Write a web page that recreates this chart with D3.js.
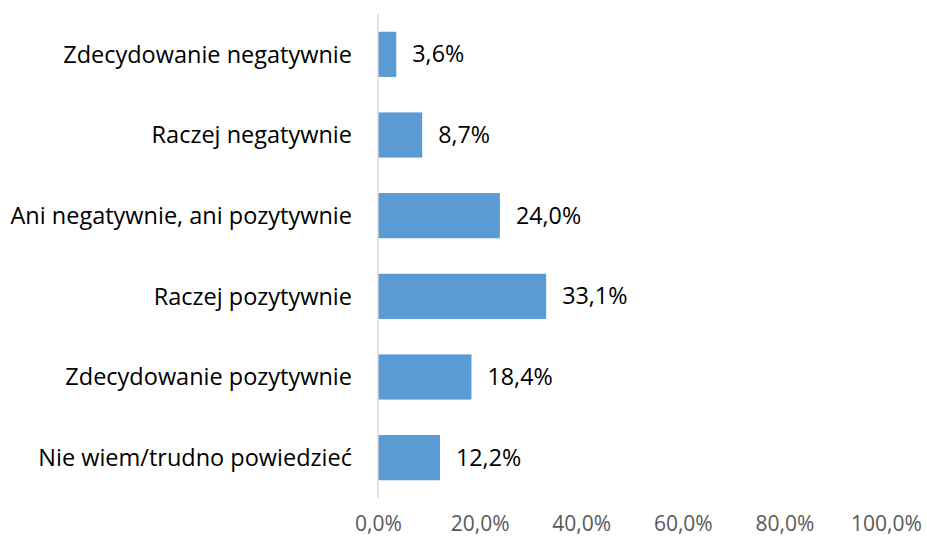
<!DOCTYPE html>
<html>
<head>
<meta charset="utf-8">
<script src="https://cdn.jsdelivr.net/npm/d3@7"></script>
<style>
  body { margin: 0; background: #fff; }
  text { font-family: "Open Sans", sans-serif; }
</style>
</head>
<body>
<script>
// answers to the survey question, top to bottom
let categories = [
  "Zdecydowanie negatywnie",
  "Raczej negatywnie",
  "Ani negatywnie, ani pozytywnie",
  "Raczej pozytywnie",
  "Zdecydowanie pozytywnie",
  "Nie wiem/trudno powiedzieć"
];
let values = [3.6, 8.7, 24.0, 33.1, 18.4, 12.2];
let tickValues = [0, 20, 40, 60, 80, 100];

let fmt = function(v){
  return v.toFixed(1).replace(".", ",") + "%";
};

let data = categories.map(function(c, i){
  return { name: c, value: values[i] };
});

let viz = d3.select("body")
  .append("svg")
    .attr("width", 927)
    .attr("height", 539)
;

let x = d3.scaleLinear().domain([0, 100]).range([378, 886]);
let y = d3.scaleBand().domain(categories).range([14, 498]).paddingInner(0.44).paddingOuter(0.22);

// bars
viz.selectAll("rect").data(data)
  .enter()
    .append("rect")
    .attr("x", x(0))
    .attr("y", function(d){ return y(d.name); })
    .attr("width", function(d){ return x(d.value) - x(0); })
    .attr("height", y.bandwidth())
    .attr("fill", "#5b9bd5")
;

// vertical axis line
viz.append("line")
  .attr("x1", x(0)).attr("x2", x(0))
  .attr("y1", 14).attr("y2", 498)
  .attr("stroke", "#d9d9d9")
  .attr("stroke-width", 1.5)
;

// category labels
viz.selectAll(".cat").data(data)
  .enter()
    .append("text")
    .attr("class", "cat")
    .attr("x", 352)
    .attr("y", function(d){ return y(d.name) + y.bandwidth() / 2; })
    .attr("dy", "0.35em")
    .attr("text-anchor", "end")
    .attr("font-size", 23.5)
    .attr("fill", "#000")
    .text(function(d){ return d.name; })
;

// value labels
viz.selectAll(".val").data(data)
  .enter()
    .append("text")
    .attr("class", "val")
    .attr("x", function(d){ return x(d.value) + 16; })
    .attr("y", function(d){ return y(d.name) + y.bandwidth() / 2; })
    .attr("dy", "0.35em")
    .attr("font-size", 23.3)
    .attr("fill", "#000")
    .text(function(d){ return fmt(d.value); })
;

// x axis tick labels, no line
let xAxis = d3.axisBottom(x).tickValues(tickValues).tickSize(0).tickPadding(0).tickFormat(fmt);
let g = viz.append("g").attr("transform", "translate(0,516)").call(xAxis);
g.select(".domain").remove();
g.selectAll("text")
  .attr("font-family", "Open Sans, sans-serif")
  .attr("font-size", 21)
  .attr("fill", "#595959")
;
</script>
</body>
</html>
